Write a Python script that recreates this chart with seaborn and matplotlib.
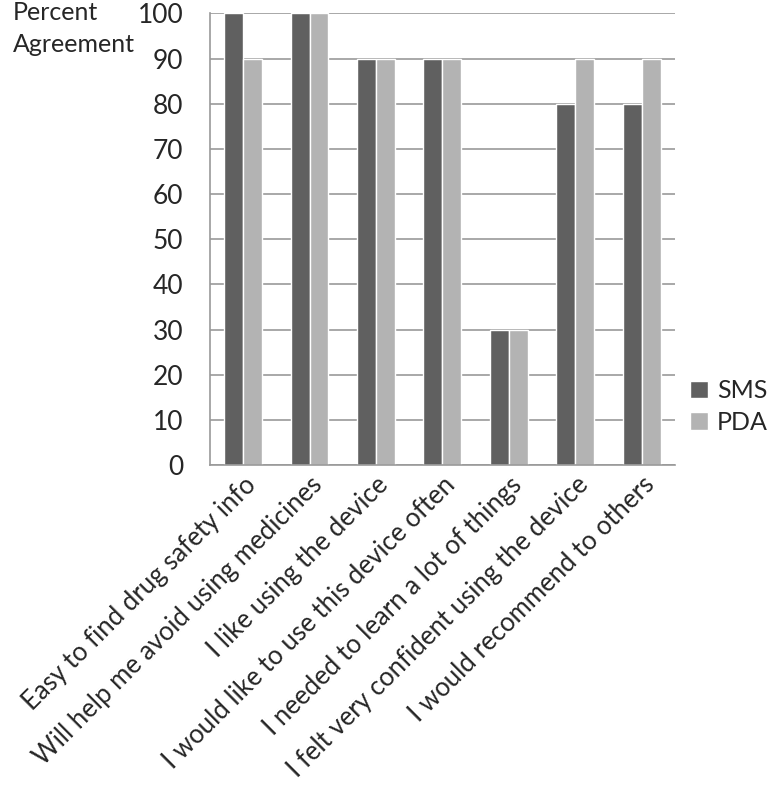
import matplotlib
matplotlib.use("Agg")
import matplotlib.pyplot as plt
import pandas as pd
import seaborn as sns
import numpy as np

CATEGORIES = [
    "Easy to find drug safety info",
    "Will help me avoid using medicines",
    "I like using the device",
    "I would like to use this device often",
    "I needed to learn a lot of things",
    "I felt very confident using the device",
    "I would recommend to others",
]
SMS = [100, 100, 90, 90, 30, 80, 80]
PDA = [90, 100, 90, 90, 30, 90, 90]
SERIES = ["SMS", "PDA"]
COLORS = ["#606060", "#b3b3b3"]
Y_TICKS = list(range(0, 101, 10))


def main():
    sns.set_style("white")
    plt.rcParams["font.family"] = ["Lato", "DejaVu Sans"]

    df = pd.DataFrame({
        "Question": CATEGORIES * 2,
        "Series": ["SMS"] * len(CATEGORIES) + ["PDA"] * len(CATEGORIES),
        "Value": SMS + PDA,
    })

    fig = plt.figure(figsize=(7.83, 7.87), dpi=100)
    ax = fig.add_axes([0.268, 0.409, 0.594, 0.574])

    sns.barplot(data=df, x="Question", y="Value", hue="Series",
                hue_order=SERIES, palette=COLORS, width=0.57,
                saturation=1, ax=ax, legend=True)

    ax.set_ylim(0, 100)
    ax.set_xlim(-0.5, len(CATEGORIES) - 0.5)
    ax.set_yticks(Y_TICKS)
    ax.yaxis.grid(True, color="#999999", linewidth=1.2)
    ax.set_axisbelow(True)
    for side in ["top", "right"]:
        ax.spines[side].set_visible(False)
    for side in ["left", "bottom"]:
        ax.spines[side].set_color("#999999")
        ax.spines[side].set_linewidth(1.2)

    ax.tick_params(axis="y", length=8, color="#999999", width=1.2,
                   labelsize=19, pad=11)
    # category labels sit on the centers, tick marks on the boundaries
    ax.set_xticks(np.arange(len(CATEGORIES)))
    ax.set_xticklabels(CATEGORIES, rotation=45, ha="right",
                       rotation_mode="anchor", fontsize=18.5)
    ax.tick_params(axis="x", which="major", length=0, pad=5)
    ax.set_xticks(np.arange(len(CATEGORIES) + 1) - 0.5, minor=True)
    ax.tick_params(axis="x", which="minor", length=8, color="#999999",
                   width=1.2)

    ax.set_xlabel("")
    ax.set_ylabel("")
    fig.text(13 / 783, 1 - 1 / 787, "Percent\nAgreement", fontsize=18,
             va="top", ha="left", linespacing=1.45)

    ax.legend(loc="center left", bbox_to_anchor=(0.985, 0.13), frameon=False,
              fontsize=18, handlelength=0.7, handleheight=0.7,
              handletextpad=0.35, labelspacing=0.35)

    fig.savefig("out.png", dpi=100)


if __name__ == "__main__":
    main()
